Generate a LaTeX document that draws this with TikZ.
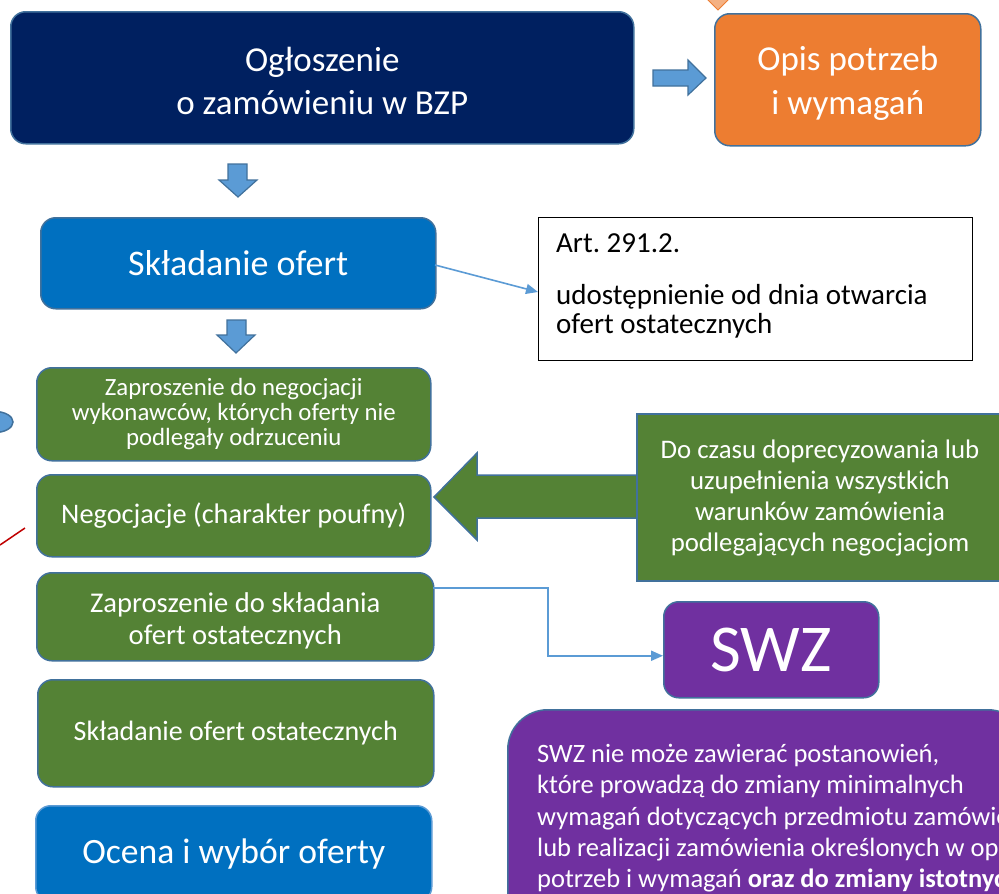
\documentclass[tikz,border=0pt]{standalone}
\usepackage{fontspec}
\setmainfont{Carlito}
\usetikzlibrary{arrows.meta}
\definecolor{navy}{HTML}{002060}
\definecolor{orng}{HTML}{ED7D31}
\definecolor{lorng}{HTML}{F4B183}
\definecolor{bblue}{HTML}{0070C0}
\definecolor{lblue}{HTML}{5B9BD5}
\definecolor{bdr}{HTML}{41719C}
\definecolor{grn}{HTML}{548235}
\definecolor{purp}{HTML}{7030A0}
\definecolor{dred}{HTML}{C00000}
\newcommand\myfs[2]{\fontsize{#1}{#2}\selectfont}
\frenchspacing
\begin{document}
\begin{tikzpicture}[x=1pt,y=-1pt,
  rbox/.style={draw=bdr, line width=1.5pt, rounded corners=15pt, anchor=north west, inner sep=0pt, text=white, align=center},
  btxt/.style={text=white, align=center, inner sep=0pt},
  blockarr/.style={fill=lblue, draw=bdr, line width=1.2pt, line join=miter},
  conn/.style={draw=lblue, line width=2pt, -{Triangle[length=12pt,width=10pt]}},
  ptxt/.style={anchor=base west, inner sep=0pt, text=white, font=\myfs{26.5}{31}},
  atxt/.style={anchor=base west, inner sep=0pt, text=black, font=\myfs{29}{30}}]
\useasboundingbox (0,0) rectangle (999,894);
\clip (0,0) rectangle (999,894);
\fill[white] (0,0) rectangle (999,894);

% top small orange arrow (cut off)
\path[fill=lorng, draw=orng, line width=1pt] (705,-3) -- (718,10) -- (731,-3) -- cycle;

% boxes
\node[rbox, fill=navy, minimum width=623pt, minimum height=132pt] (ogl) at (10,11) {};
\node[btxt, font=\myfs{35}{43}] (oglt) at ([yshift=-3pt]ogl.center) {Ogłoszenie\\o zamówieniu w BZP};
\node[rbox, fill=orng, minimum width=266pt, minimum height=132pt] (opis) at (714,13) {};
\node[btxt, font=\myfs{35}{44}] (opist) at ([yshift=-4pt]opis.center) {Opis potrzeb\\i wymagań};
\node[rbox, fill=bblue, minimum width=395pt, minimum height=91pt, font=\myfs{36}{43}] (skl) at (40,217) {Składanie ofert};
\node[draw=black, line width=1.3pt, fill=white, anchor=north west, minimum width=434pt, minimum height=143pt, inner sep=0pt] (art) at (538,217) {};
\node[atxt] (art1) at (556,252) {Art. 291.2.};
\node[atxt] (art2) at (556,304) {udostępnienie od dnia otwarcia};
\node[atxt] (art3) at (556,333) {ofert ostatecznych};

\node[rbox, fill=grn, minimum width=394pt, minimum height=93pt, font=\myfs{24.8}{25}] (g1) at (36,367) {Zaproszenie do negocjacji\\wykonawców, których oferty nie\\podlegały odrzuceniu};
\node[rbox, fill=grn, minimum width=394pt, minimum height=82pt, font=\myfs{28.3}{32}] (g2) at (36,474) {Negocjacje (charakter poufny)};
\node[rbox, fill=grn, minimum width=397pt, minimum height=88pt] (g3) at (36,572) {};
\node[btxt, font=\myfs{28.6}{32}] (g3t) at ([yshift=-4pt]g3.center) {Zaproszenie do składania\\ofert ostatecznych};
\node[rbox, fill=grn, minimum width=396pt, minimum height=107pt, font=\myfs{28}{32}] (g4) at (37,679) {Składanie ofert ostatecznych};
\node[rbox, draw=lblue, fill=bblue, minimum width=396pt, minimum height=96pt, font=\myfs{35.6}{43}] (ocena) at (35,805) {Ocena i wybór oferty};

% big green arrow to Negocjacje
\path[fill=grn, draw=bdr, line width=1.5pt, line join=miter] (640,475) -- (477,475) -- (477,453) -- (434,497) -- (477,540) -- (477,518) -- (640,518);
\node[draw=bdr, fill=grn, line width=1.5pt, anchor=north west, minimum width=370pt, minimum height=167pt, inner sep=0pt] (gbox) at (636,413) {};
\node[btxt, font=\myfs{26.8}{31}] (gtxt) at (820,498) {Do czasu doprecyzowania lub\\uzupełnienia wszystkich\\warunków zamówienia\\podlegających negocjacjom};

\node[rbox, fill=purp, minimum width=215pt, minimum height=96pt, font=\myfs{67}{70}] (swz) at (663,601) {SWZ};

\node[rbox, rounded corners=40pt, fill=purp, minimum width=520pt, minimum height=240pt] (pbox) at (507,709) {};
\node[ptxt] (p1) at (537,762) {SWZ nie może zawierać postanowień,};
\node[ptxt] (p2) at (537,793) {które prowadzą do zmiany minimalnych};
\node[ptxt] (p3) at (537,825) {wymagań dotyczących przedmiotu zamówienia};
\node[ptxt] (p4) at (537,856) {lub realizacji zamówienia określonych w opisie};
\node[ptxt] (p5) at (537,887) {potrzeb i wymagań \textbf{oraz do zmiany istotnych}};

% block arrows
\path[blockarr] (653,70) -- (688,70) -- (688,60) -- (706,78) -- (688,95) -- (688,86) -- (653,86) -- cycle;
\path[blockarr] (228,164) -- (247,164) -- (247,180) -- (257,180) -- (238,197) -- (219,180) -- (228,180) -- cycle;
\path[blockarr] (227,320) -- (246,320) -- (246,335) -- (255,335) -- (236,353) -- (217,335) -- (227,335) -- cycle;

% left partial shapes
\path[fill=lblue, draw=bdr, line width=1.5pt] (-5,422) ellipse [x radius=18, y radius=10.5];
\coordinate (r1) at (0,545);
\coordinate (r2) at (25,528);
\draw[dred, line width=1.5pt] (r1) -- (r2);

% connectors
\coordinate (sk) at (435,265);
\draw[conn, line width=1.6pt] (sk) -- (art.west |- 0,292);
\coordinate (c1) at (433,588);
\coordinate (c2) at (548,588);
\draw[conn] (c1) -- (c2) |- ([yshift=-6pt]swz.west);
\end{tikzpicture}
\end{document}
